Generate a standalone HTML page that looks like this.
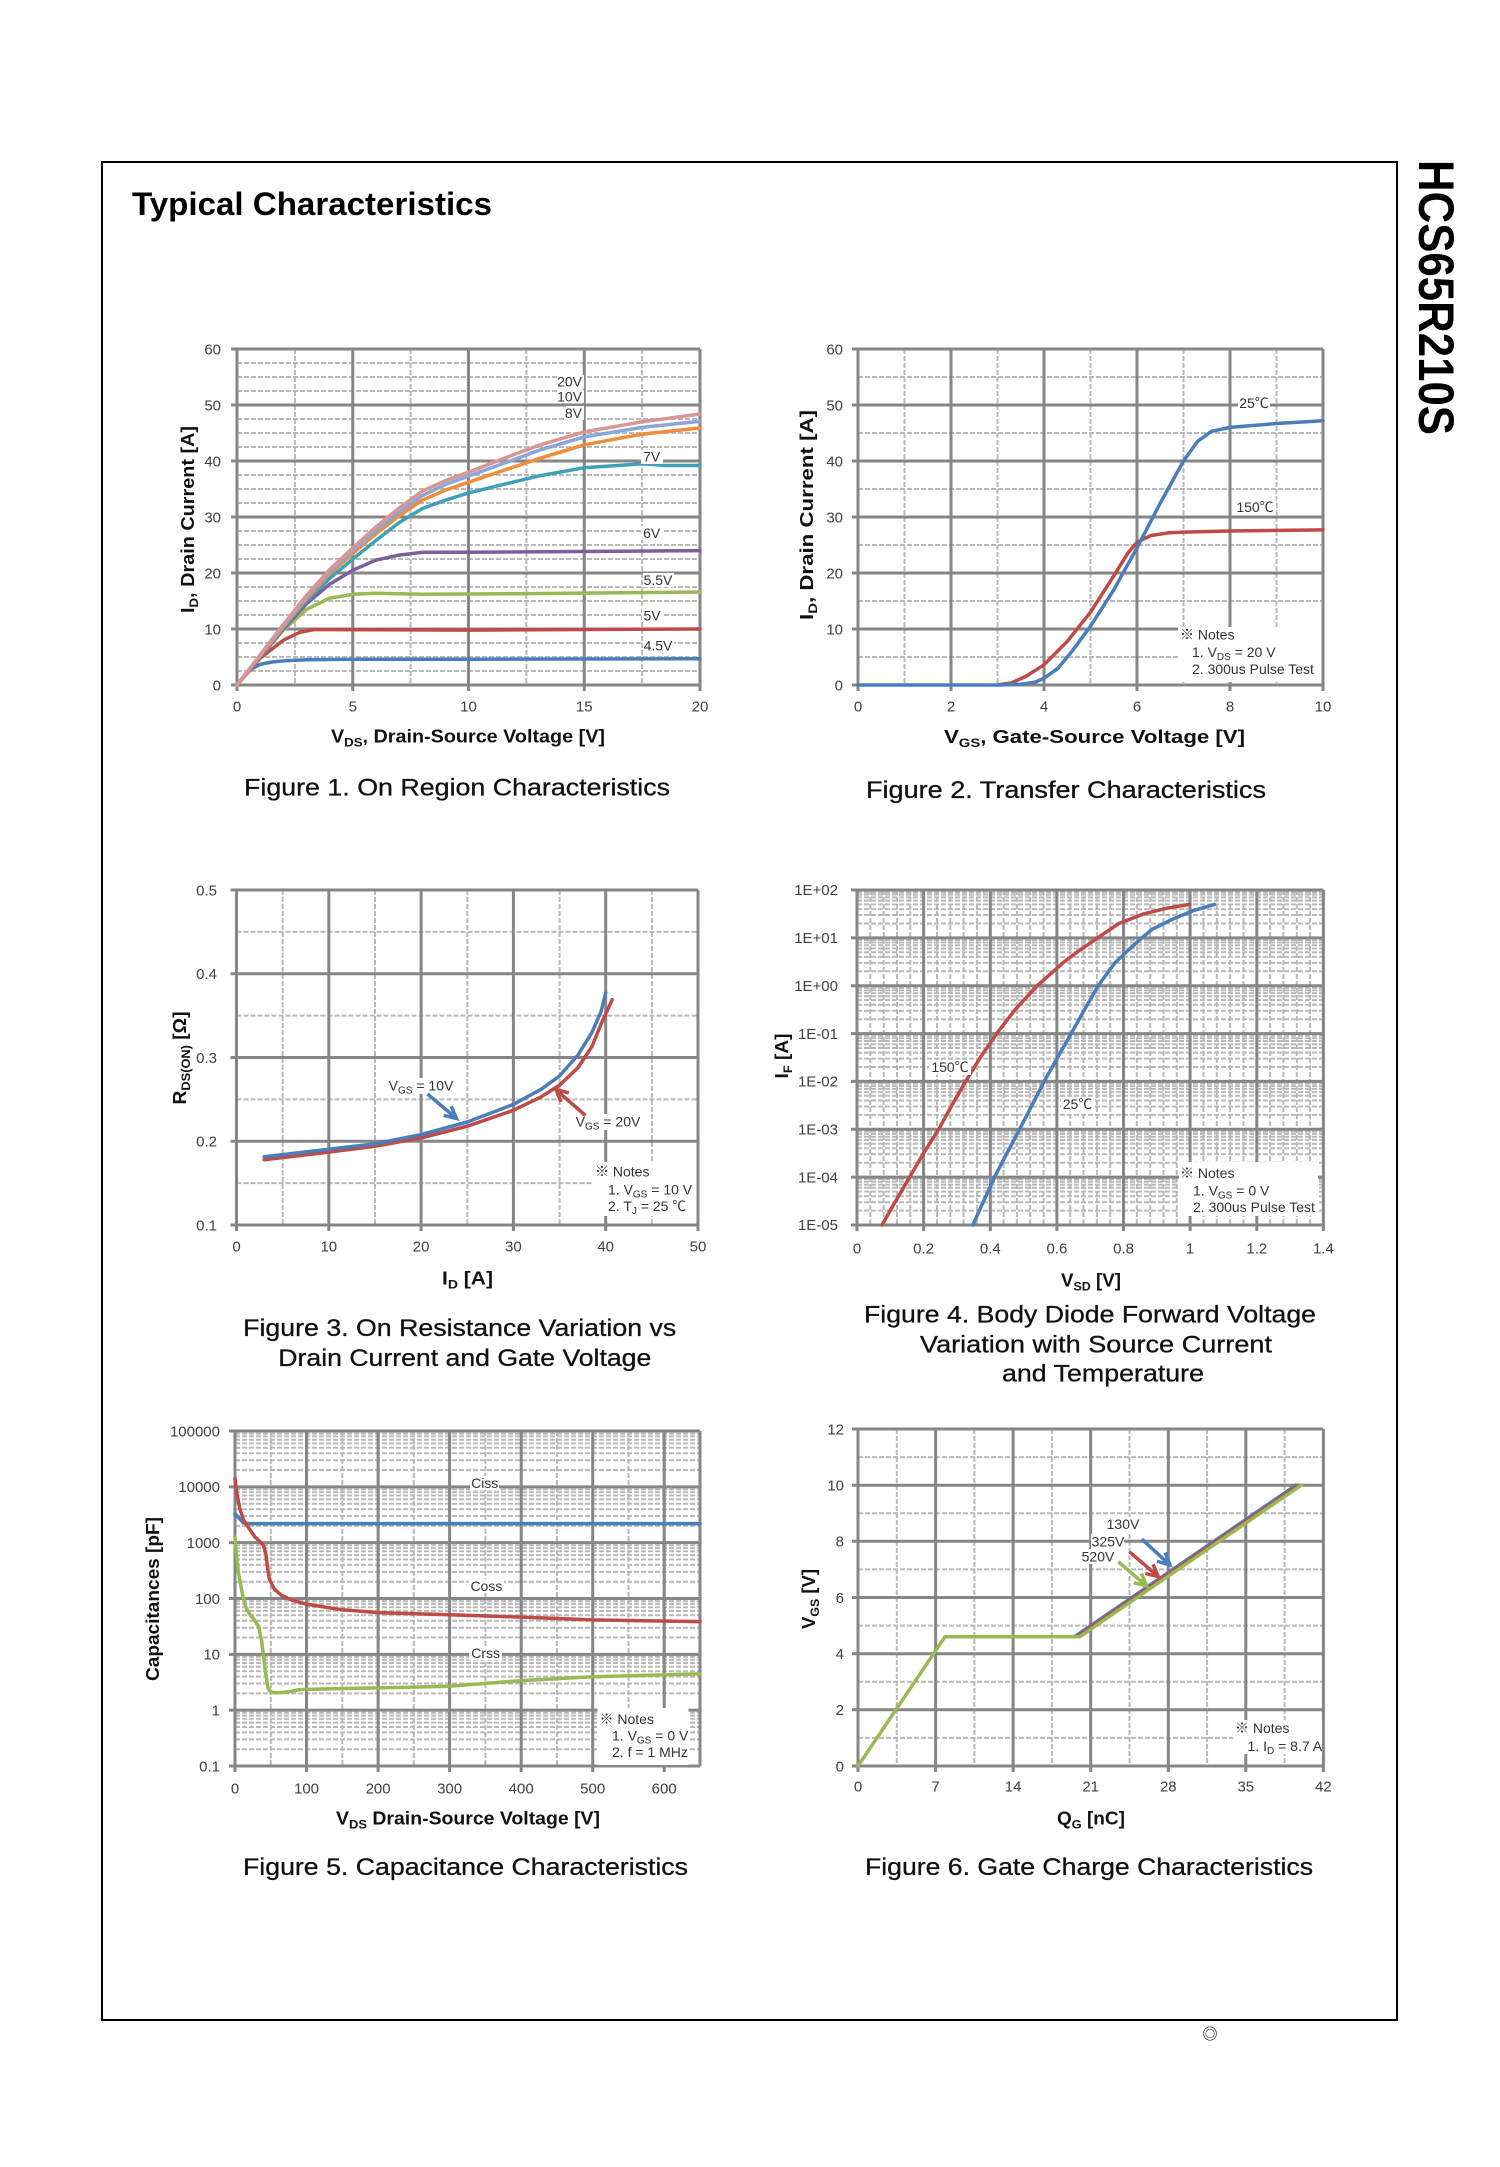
<!DOCTYPE html>
<html><head><meta charset="utf-8">
<style>
html,body{margin:0;padding:0;background:#fff;}
svg{display:block;}
text{font-family:"Liberation Sans","Noto Sans CJK JP",sans-serif;}
.tk{font-size:15px;fill:#404040;}
.ax{font-size:18px;font-weight:bold;fill:#111;}
.cap{font-size:24px;fill:#111;stroke:#111;stroke-width:0.3;}
.nt{font-size:14px;fill:#333;}
.lb{font-size:14px;fill:#333;}
.mj{stroke:#868686;stroke-width:3;fill:none;}
.mn{stroke:#b9b9b9;stroke-width:2;stroke-dasharray:5 2;fill:none;}
.cv{fill:none;stroke-width:3.5;stroke-linejoin:round;stroke-linecap:round;}
.ar{fill:none;stroke-width:3.5;stroke-linejoin:miter;stroke-linecap:butt;}
</style></head>
<body>
<svg width="1500" height="2167" viewBox="0 0 1500 2167" xmlns="http://www.w3.org/2000/svg">
<rect x="0" y="0" width="1500" height="2167" fill="#fff"/>
<!-- page frame -->
<rect x="102" y="162" width="1295" height="1858" fill="none" stroke="#000" stroke-width="2"/>
<text x="132" y="215" font-size="32" font-weight="bold" fill="#000" textLength="360" lengthAdjust="spacingAndGlyphs">Typical Characteristics</text>
<text transform="translate(1419,160) rotate(90)" font-size="50" font-weight="bold" fill="#000" textLength="275" lengthAdjust="spacingAndGlyphs">HCS65R210S</text>
<text x="1210" y="2039" font-size="15" text-anchor="middle" fill="#000">◎</text>

<!-- ================= CHART 1 ================= -->
<path class="mn" d="M294.9 349V685M410.6 349V685M526.4 349V685M642.1 349V685
M237 671H700M237 657H700M237 643H700M237 615H700M237 601H700M237 587H700M237 559H700M237 545H700M237 531H700M237 503H700M237 489H700M237 475H700M237 447H700M237 433H700M237 419H700M237 391H700M237 377H700M237 363H700"/>
<path class="mj" d="M237 349V691M352.75 349V691M468.5 349V691M584.25 349V691M700 349V691
M231 685H700M231 629H700M231 573H700M231 517H700M231 461H700M231 405H700M231 349H700"/>
<polyline class="cv" stroke="#4a7ebb" points="237,685 243.9,676.6 250.9,669.3 260.2,664.3 271.7,662 283.3,660.9 306.5,659.8 352.8,659.2 468.5,659.2 700,658.7"/>
<polyline class="cv" stroke="#be4b48" points="237,685 260.2,658.1 283.3,640.2 299.5,632.4 313.4,629.6 329.6,629.6 468.5,630.1 700,629"/>
<polyline class="cv" stroke="#98b954" points="237,685 260.2,657 283.3,630.1 306.5,609.4 329.6,598.2 352.8,594.3 375.9,593.2 422.2,594.3 514.8,593.7 700,592"/>
<polyline class="cv" stroke="#7d5fa0" points="237,685 260.2,657 283.3,629 306.5,603.8 329.6,584.2 352.8,570.2 375.9,560.1 399.1,555.1 422.2,552.3 468.5,552.3 700,550.6"/>
<polyline class="cv" stroke="#3fa0b8" points="237,685 260.2,656.4 283.3,627.9 306.5,601 329.6,578.6 352.8,559 375.9,540.5 399.1,522.6 422.2,508.6 445.4,500.2 468.5,492.9 514.8,481.7 540.3,475.6 584.3,467.7 642.1,463.8 665.3,465.5 700,465.5"/>
<polyline class="cv" stroke="#f08c3a" points="237,685 260.2,655.9 283.3,626.8 306.5,598.8 329.6,574.1 352.8,553.4 375.9,533.8 399.1,515.9 422.2,500.2 445.4,490.1 468.5,482.3 514.8,466.6 540.3,458.2 584.3,444.8 642.1,434.1 700,428"/>
<polyline class="cv" stroke="#8ba7da" points="237,685 260.2,655.3 283.3,625.6 306.5,597.1 329.6,571.9 352.8,550.6 375.9,530.4 399.1,512 422.2,495.7 445.4,484.5 468.5,476.1 514.8,459.3 540.3,449.8 584.3,436.9 642.1,427.4 700,421.2"/>
<polyline class="cv" stroke="#d99694" points="237,685 260.2,654.8 283.3,624.5 306.5,595.4 329.6,569.6 352.8,547.8 375.9,527.1 399.1,508 422.2,491.2 445.4,480.6 468.5,472.2 514.8,454.3 540.3,444.8 584.3,431.9 642.1,421.8 700,414"/>
<g fill="#fff">
<rect x="557" y="375" width="27" height="14"/><rect x="557" y="390" width="27" height="13"/><rect x="566" y="406" width="18" height="14"/>
<rect x="641" y="450" width="22" height="14"/><rect x="641" y="526" width="22" height="14"/><rect x="643" y="573" width="31" height="14"/>
<rect x="642" y="608" width="21" height="14"/><rect x="643" y="638" width="31" height="14"/>
</g>
<g class="lb">
<text x="582" y="386.5" text-anchor="end">20V</text>
<text x="582" y="401.5" text-anchor="end">10V</text>
<text x="582" y="418" text-anchor="end">8V</text>
<text x="651.7" y="461.5" text-anchor="middle">7V</text>
<text x="651.7" y="538" text-anchor="middle">6V</text>
<text x="658" y="585" text-anchor="middle">5.5V</text>
<text x="652" y="620.5" text-anchor="middle">5V</text>
<text x="658" y="650.5" text-anchor="middle">4.5V</text>
</g>
<g class="tk" text-anchor="end">
<text x="221" y="690.5">0</text><text x="221" y="634.5">10</text><text x="221" y="578.5">20</text><text x="221" y="522.5">30</text><text x="221" y="466.5">40</text><text x="221" y="410.5">50</text><text x="221" y="354.5">60</text>
</g>
<g class="tk" text-anchor="middle">
<text x="237" y="711.5">0</text><text x="352.75" y="711.5">5</text><text x="468.5" y="711.5">10</text><text x="584.25" y="711.5">15</text><text x="700" y="711.5">20</text>
</g>
<text class="ax" x="468" y="742.5" text-anchor="middle" textLength="274" lengthAdjust="spacingAndGlyphs">V<tspan font-size="12" dy="4">DS</tspan><tspan dy="-4">, Drain-Source Voltage  [V]</tspan></text>
<text class="ax" transform="translate(194,519.5) rotate(-90)" text-anchor="middle" textLength="187" lengthAdjust="spacingAndGlyphs">I<tspan font-size="12" dy="4">D</tspan><tspan dy="-4">, Drain Current  [A]</tspan></text>
<text class="cap" x="457" y="795.5" text-anchor="middle" textLength="426" lengthAdjust="spacingAndGlyphs">Figure 1. On Region Characteristics</text>

<!-- ================= CHART 2 ================= -->
<path class="mn" d="M904.5 349V685M997.5 349V685M1090.5 349V685M1183.5 349V685M1276.5 349V685
M858 657H1323M858 601H1323M858 545H1323M858 489H1323M858 433H1323M858 377H1323"/>
<path class="mj" d="M858 349V691M951 349V691M1044 349V691M1137 349V691M1230 349V691M1323 349V691
M852 685H1323M852 629H1323M852 573H1323M852 517H1323M852 461H1323M852 405H1323M852 349H1323"/>
<rect x="1178" y="627" width="143.5" height="55" fill="#fff"/>
<polyline class="cv" stroke="#be4b48" points="997.5,685 1011.5,682.8 1025.4,676.6 1044,664.8 1067.3,641.3 1090.5,612.2 1113.8,575.8 1127.7,553.4 1137,542.2 1151,535.5 1169.6,532.7 1183.5,532.1 1230,531 1323,529.9"/>
<polyline class="cv" stroke="#4a7ebb" points="858,685 997.5,685 1020.8,684.2 1034.7,682.2 1044,678.3 1058,668.2 1071.9,651.4 1090.5,626.2 1113.8,589.8 1137,547.8 1160.3,503 1183.5,461 1197.5,441.4 1211.4,431.3 1230,427.4 1276.5,423.5 1323,420.7"/>
<g fill="#fff"><rect x="1238" y="396" width="32" height="14"/><rect x="1234" y="500" width="42" height="14"/></g>
<g class="lb" text-anchor="middle">
<text x="1254" y="408">25℃</text>
<text x="1255" y="512">150℃</text>
</g>
<g class="nt">
<text x="1180" y="639.5">※ Notes</text>
<text x="1192" y="657">1. V<tspan font-size="10" dy="3">DS</tspan><tspan dy="-3"> = 20 V</tspan></text>
<text x="1192" y="674">2. 300us Pulse Test</text>
</g>
<g class="tk" text-anchor="end">
<text x="843" y="690.5">0</text><text x="843" y="634.5">10</text><text x="843" y="578.5">20</text><text x="843" y="522.5">30</text><text x="843" y="466.5">40</text><text x="843" y="410.5">50</text><text x="843" y="354.5">60</text>
</g>
<g class="tk" text-anchor="middle">
<text x="858" y="711.5">0</text><text x="951" y="711.5">2</text><text x="1044" y="711.5">4</text><text x="1137" y="711.5">6</text><text x="1230" y="711.5">8</text><text x="1323" y="711.5">10</text>
</g>
<text class="ax" x="1094.5" y="743" text-anchor="middle" textLength="301" lengthAdjust="spacingAndGlyphs">V<tspan font-size="12" dy="4">GS</tspan><tspan dy="-4">, Gate-Source Voltage [V]</tspan></text>
<text class="ax" transform="translate(813,515) rotate(-90)" text-anchor="middle" textLength="210" lengthAdjust="spacingAndGlyphs">I<tspan font-size="12" dy="4">D</tspan><tspan dy="-4">, Drain Current [A]</tspan></text>
<text class="cap" x="1066" y="798" text-anchor="middle" textLength="400" lengthAdjust="spacingAndGlyphs">Figure 2. Transfer Characteristics</text>

<!-- ================= CHART 3 ================= -->
<path class="mn" d="M282.7 890V1225M375 890V1225M467.3 890V1225M559.6 890V1225M651.9 890V1225
M236.5 1183.1H698M236.5 1099.4H698M236.5 1015.6H698M236.5 931.9H698"/>
<path class="mj" d="M236.5 890V1231M328.8 890V1231M421.1 890V1231M513.4 890V1231M605.7 890V1231M698 890V1231
M230.5 1225H698M230.5 1141.25H698M230.5 1057.5H698M230.5 973.75H698M230.5 890H698"/>
<rect x="593" y="1162" width="103.5" height="54" fill="#fff"/>
<polyline class="cv" stroke="#be4b48" points="264.2,1159.7 328.8,1152.1 374.9,1146.3 421.1,1137.9 467.3,1126.2 513.4,1110.3 541.1,1096.9 559.6,1085.1 578,1067.6 591.9,1046.6 601.1,1024 612.2,999.7"/>
<polyline class="cv" stroke="#4a7ebb" points="264.2,1156.7 328.8,1149.3 374.9,1143.8 421.1,1134.6 467.3,1122 513.4,1104.4 541.1,1089.3 559.6,1075.9 578,1055 591.9,1032.4 601.1,1011.4 605.7,993"/>
<g fill="#fff"><rect x="388" y="1078" width="66" height="16"/><rect x="574" y="1114" width="67" height="16"/></g>
<line x1="427.5" y1="1094" x2="453" y2="1115.5" stroke="#4a7ebb" stroke-width="3.5"/>
<polyline class="ar" stroke="#4a7ebb" points="443.5,1115.3 456.5,1118.5 451.2,1106.2"/>
<line x1="585.5" y1="1115.5" x2="559" y2="1092.5" stroke="#be4b48" stroke-width="3.5"/>
<polyline class="ar" stroke="#be4b48" points="569,1092.9 556,1089.5 561,1102"/>
<g class="lb" text-anchor="middle">
<text x="421" y="1090.5">V<tspan font-size="10" dy="3">GS</tspan><tspan dy="-3"> = 10V</tspan></text>
<text x="608" y="1126.5">V<tspan font-size="10" dy="3">GS</tspan><tspan dy="-3"> = 20V</tspan></text>
</g>
<g class="nt">
<text x="595" y="1176.5">※ Notes</text>
<text x="608" y="1194.5">1. V<tspan font-size="10" dy="3">GS</tspan><tspan dy="-3"> = 10 V</tspan></text>
<text x="608" y="1211">2. T<tspan font-size="10" dy="3">J</tspan><tspan dy="-3"> = 25 ℃</tspan></text>
</g>
<g class="tk" text-anchor="end">
<text x="217" y="1230.4">0.1</text><text x="217" y="1146.7">0.2</text><text x="217" y="1062.9">0.3</text><text x="217" y="979.2">0.4</text><text x="217" y="895.4">0.5</text>
</g>
<g class="tk" text-anchor="middle">
<text x="236.5" y="1251.5">0</text><text x="328.8" y="1251.5">10</text><text x="421.1" y="1251.5">20</text><text x="513.4" y="1251.5">30</text><text x="605.7" y="1251.5">40</text><text x="698" y="1251.5">50</text>
</g>
<text class="ax" x="467.5" y="1284.5" text-anchor="middle" textLength="51" lengthAdjust="spacingAndGlyphs">I<tspan font-size="12" dy="4">D</tspan><tspan dy="-4">  [A]</tspan></text>
<text class="ax" transform="translate(186,1058) rotate(-90)" text-anchor="middle" textLength="93" lengthAdjust="spacingAndGlyphs">R<tspan font-size="12" dy="4">DS(ON)</tspan><tspan dy="-4"> [Ω]</tspan></text>
<text class="cap" x="459.7" y="1336" text-anchor="middle" textLength="433" lengthAdjust="spacingAndGlyphs">Figure 3. On Resistance Variation vs</text>
<text class="cap" x="464.8" y="1366" text-anchor="middle" textLength="373" lengthAdjust="spacingAndGlyphs">Drain Current and Gate Voltage</text>

<!-- ================= CHART 4 ================= -->
<path class="mn" d="M870.3 890V1225M883.7 890V1225M897 890V1225M910.3 890V1225M937 890V1225M950.3 890V1225M963.6 890V1225M976.9 890V1225M1003.6 890V1225M1016.9 890V1225M1030.2 890V1225M1043.6 890V1225M1070.2 890V1225M1083.5 890V1225M1096.9 890V1225M1110.2 890V1225M1136.8 890V1225M1150.2 890V1225M1163.5 890V1225M1176.8 890V1225M1203.5 890V1225M1216.8 890V1225M1230.1 890V1225M1243.5 890V1225M1270.1 890V1225M1283.4 890V1225M1296.8 890V1225M1310.1 890V1225
M857 1210.6H1323.4M857 1202.2H1323.4M857 1196.2H1323.4M857 1191.6H1323.4M857 1187.8H1323.4M857 1184.6H1323.4M857 1181.8H1323.4M857 1179.3H1323.4
M857 1162.7H1323.4M857 1154.3H1323.4M857 1148.3H1323.4M857 1143.7H1323.4M857 1139.9H1323.4M857 1136.7H1323.4M857 1133.9H1323.4M857 1131.5H1323.4
M857 1114.9H1323.4M857 1106.5H1323.4M857 1100.5H1323.4M857 1095.8H1323.4M857 1092.1H1323.4M857 1088.9H1323.4M857 1086.1H1323.4M857 1083.6H1323.4
M857 1067H1323.4M857 1058.6H1323.4M857 1052.6H1323.4M857 1048H1323.4M857 1044.2H1323.4M857 1041H1323.4M857 1038.2H1323.4M857 1035.8H1323.4
M857 1019.2H1323.4M857 1010.7H1323.4M857 1004.8H1323.4M857 1000.1H1323.4M857 996.3H1323.4M857 993.1H1323.4M857 990.4H1323.4M857 987.9H1323.4
M857 971.3H1323.4M857 962.9H1323.4M857 956.9H1323.4M857 952.3H1323.4M857 948.5H1323.4M857 945.3H1323.4M857 942.5H1323.4M857 940H1323.4
M857 923.5H1323.4M857 915H1323.4M857 909.1H1323.4M857 904.4H1323.4M857 900.6H1323.4M857 897.4H1323.4M857 894.6H1323.4M857 892.2H1323.4"/>
<path class="mj" d="M857 890V1231M923.6 890V1231M990.3 890V1231M1056.9 890V1231M1123.5 890V1231M1190.1 890V1231M1256.8 890V1231M1323.4 890V1231
M851 1225H1323.4M851 1177.14H1323.4M851 1129.29H1323.4M851 1081.43H1323.4M851 1033.57H1323.4M851 985.71H1323.4M851 937.86H1323.4M851 890H1323.4"/>
<rect x="1179" y="1162" width="139" height="54" fill="#fff"/>
<polyline class="cv" stroke="#be4b48" points="882,1225 895.6,1201.1 909.6,1177.1 923.6,1153.2 938.6,1129.3 951.9,1105.4 965.6,1081.4 980.3,1057.5 996.6,1033.6 1015.2,1009.6 1037.2,985.7 1062.9,962.9 1076.9,952.2 1097.5,937.9 1118.9,923.5 1143.5,913.9 1166.8,908.2 1189.5,904.4"/>
<polyline class="cv" stroke="#4a7ebb" points="972.9,1225 983.6,1201.1 994.6,1177.1 1006.9,1153.2 1019.6,1129.3 1031.9,1105.4 1044.2,1081.4 1057.6,1057.5 1071.2,1033.6 1084.5,1009.6 1098.2,985.7 1114.9,962.9 1130.2,948.4 1141.8,937.9 1152.2,929.3 1173.5,918.7 1193.5,910.6 1214.5,904.4"/>
<g fill="#fff"><rect x="929" y="1060" width="42" height="15"/><rect x="1061" y="1097" width="33" height="15"/></g>
<g class="lb" text-anchor="middle">
<text x="950" y="1072">150℃</text>
<text x="1077.5" y="1109">25℃</text>
</g>
<g class="nt">
<text x="1180" y="1178">※ Notes</text>
<text x="1193" y="1195.5">1. V<tspan font-size="10" dy="3">GS</tspan><tspan dy="-3"> = 0 V</tspan></text>
<text x="1193" y="1212">2. 300us Pulse Test</text>
</g>
<g class="tk" text-anchor="end" font-size="14">
<text x="838" y="895.2">1E+02</text><text x="838" y="943">1E+01</text><text x="838" y="990.9">1E+00</text><text x="838" y="1038.8">1E-01</text><text x="838" y="1086.6">1E-02</text><text x="838" y="1134.5">1E-03</text><text x="838" y="1182.3">1E-04</text><text x="838" y="1230.2">1E-05</text>
</g>
<g class="tk" text-anchor="middle">
<text x="857" y="1253.5">0</text><text x="923.6" y="1253.5">0.2</text><text x="990.3" y="1253.5">0.4</text><text x="1056.9" y="1253.5">0.6</text><text x="1123.5" y="1253.5">0.8</text><text x="1190.1" y="1253.5">1</text><text x="1256.8" y="1253.5">1.2</text><text x="1323.4" y="1253.5">1.4</text>
</g>
<text class="ax" x="1091" y="1286.5" text-anchor="middle" textLength="60" lengthAdjust="spacingAndGlyphs">V<tspan font-size="12" dy="4">SD</tspan><tspan dy="-4"> [V]</tspan></text>
<text class="ax" transform="translate(788,1056) rotate(-90)" text-anchor="middle" textLength="45" lengthAdjust="spacingAndGlyphs">I<tspan font-size="12" dy="4">F</tspan><tspan dy="-4"> [A]</tspan></text>
<text class="cap" x="1090" y="1322.5" text-anchor="middle" textLength="452" lengthAdjust="spacingAndGlyphs">Figure 4. Body Diode Forward Voltage</text>
<text class="cap" x="1096" y="1352.5" text-anchor="middle" textLength="352" lengthAdjust="spacingAndGlyphs">Variation with Source Current</text>
<text class="cap" x="1103" y="1381.5" text-anchor="middle" textLength="202" lengthAdjust="spacingAndGlyphs">and Temperature</text>

<!-- ================= CHART 5 ================= -->
<path class="mn" d="M270.8 1431V1766M342.3 1431V1766M413.8 1431V1766M485.4 1431V1766M556.9 1431V1766M628.5 1431V1766
M235 1749.2H700M235 1739.4H700M235 1732.4H700M235 1727H700M235 1722.6H700M235 1718.8H700M235 1715.6H700M235 1712.7H700
M235 1693.4H700M235 1683.5H700M235 1676.6H700M235 1671.2H700M235 1666.7H700M235 1663H700M235 1659.8H700M235 1656.9H700
M235 1637.5H700M235 1627.7H700M235 1620.7H700M235 1615.3H700M235 1610.9H700M235 1607.2H700M235 1603.9H700M235 1601.1H700
M235 1581.7H700M235 1571.9H700M235 1564.9H700M235 1559.5H700M235 1555.1H700M235 1551.3H700M235 1548.1H700M235 1545.2H700
M235 1525.9H700M235 1516H700M235 1509.1H700M235 1503.7H700M235 1499.2H700M235 1495.5H700M235 1492.3H700M235 1489.4H700
M235 1470H700M235 1460.2H700M235 1453.2H700M235 1447.8H700M235 1443.4H700M235 1439.7H700M235 1436.4H700M235 1433.6H700"/>
<path class="mj" d="M235 1431V1772M306.5 1431V1772M378.1 1431V1772M449.6 1431V1772M521.2 1431V1772M592.7 1431V1772M664.2 1431V1772M700 1431V1766
M229 1766H700M229 1710.17H700M229 1654.33H700M229 1598.5H700M229 1542.67H700M229 1486.83H700M229 1431H700"/>
<rect x="597.5" y="1708" width="91" height="57" fill="#fff"/>
<polyline class="cv" stroke="#4a7ebb" points="235,1513.7 238.6,1517.7 243.6,1523 249.3,1523.6 700,1523.6"/>
<polyline class="cv" stroke="#be4b48" points="235,1478.5 237.1,1495.2 240,1509.2 243.6,1520.4 249.3,1528.8 255,1537.1 260,1541.6 263.6,1545.5 265.8,1553.9 267.2,1565.1 269.3,1579 274.3,1589.1 281.5,1595.3 292.2,1600.3 306.5,1604.2 342.3,1609.8 378.1,1612.6 449.6,1614.8 521.2,1617.1 592.7,1619.9 700,1621.6"/>
<polyline class="cv" stroke="#98b954" points="235,1537.1 236.4,1553.9 238.6,1573.4 242.2,1593 245.7,1606.9 249.3,1613.6 255,1620.9 258.6,1626.5 261.5,1640.4 263.6,1657.2 265.8,1674 267.9,1687.9 270.8,1692.3 277.9,1692.9 288.7,1691.8 299.4,1689.6 320.8,1689 378.1,1687.9 449.6,1686.2 521.2,1680.6 592.7,1676.7 700,1673.9"/>
<g fill="#fff"><rect x="470" y="1476" width="29" height="14"/><rect x="469" y="1579" width="35" height="14"/><rect x="469" y="1646" width="33" height="14"/></g>
<g class="lb" text-anchor="middle">
<text x="484.7" y="1488">Ciss</text>
<text x="486.4" y="1591">Coss</text>
<text x="485.6" y="1658">Crss</text>
</g>
<g class="nt">
<text x="599.5" y="1724">※ Notes</text>
<text x="612" y="1740.5">1. V<tspan font-size="10" dy="3">GS</tspan><tspan dy="-3"> = 0 V</tspan></text>
<text x="612" y="1757">2. f = 1 MHz</text>
</g>
<g class="tk" text-anchor="end">
<text x="220" y="1771.4">0.1</text><text x="220" y="1715.6">1</text><text x="220" y="1659.7">10</text><text x="220" y="1603.9">100</text><text x="220" y="1548.1">1000</text><text x="220" y="1492.2">10000</text><text x="220" y="1436.4">100000</text>
</g>
<g class="tk" text-anchor="middle">
<text x="235" y="1793.5">0</text><text x="306.5" y="1793.5">100</text><text x="378.1" y="1793.5">200</text><text x="449.6" y="1793.5">300</text><text x="521.2" y="1793.5">400</text><text x="592.7" y="1793.5">500</text><text x="664.2" y="1793.5">600</text>
</g>
<text class="ax" x="468" y="1824.5" text-anchor="middle" textLength="264" lengthAdjust="spacingAndGlyphs">V<tspan font-size="12" dy="4">DS</tspan><tspan dy="-4"> Drain-Source Voltage [V]</tspan></text>
<text class="ax" transform="translate(159,1599) rotate(-90)" text-anchor="middle" font-size="19" textLength="164" lengthAdjust="spacingAndGlyphs">Capacitances [pF]</text>
<text class="cap" x="465.5" y="1875" text-anchor="middle" textLength="445" lengthAdjust="spacingAndGlyphs">Figure 5. Capacitance Characteristics</text>

<!-- ================= CHART 6 ================= -->
<path class="mn" d="M896.8 1429V1766M974.4 1429V1766M1051.9 1429V1766M1129.5 1429V1766M1207.1 1429V1766M1284.6 1429V1766
M858 1737.9H1323.4M858 1681.8H1323.4M858 1625.6H1323.4M858 1569.4H1323.4M858 1513.3H1323.4M858 1457.1H1323.4"/>
<path class="mj" d="M858 1429V1772M935.6 1429V1772M1013.1 1429V1772M1090.7 1429V1772M1168.3 1429V1772M1245.8 1429V1772M1323.4 1429V1772
M852 1766H1323.4M852 1709.8H1323.4M852 1653.7H1323.4M852 1597.5H1323.4M852 1541.3H1323.4M852 1485.2H1323.4M852 1429H1323.4"/>
<rect x="1233" y="1720" width="89" height="34" fill="#fff"/>
<polyline class="cv" stroke="#4a7ebb" points="1050,1636.8 1074.4,1636.8 1296,1485.2"/>
<polyline class="cv" stroke="#be4b48" points="1050,1636.8 1077,1636.8 1298.6,1485.2"/>
<polyline class="cv" stroke="#98b954" points="858,1766 945,1636.8 1079.6,1636.8 1301.2,1485.2"/>
<g fill="#fff"><rect x="1107" y="1517" width="33" height="15"/><rect x="1091" y="1534" width="33" height="15"/><rect x="1081" y="1549" width="33" height="15"/></g>
<line x1="1141.7" y1="1539" x2="1167" y2="1562.3" stroke="#4a7ebb" stroke-width="3.5"/>
<polyline class="ar" stroke="#4a7ebb" points="1157.1,1561.3 1170,1565 1165.2,1552.5"/>
<line x1="1129.3" y1="1551.7" x2="1155.2" y2="1574" stroke="#be4b48" stroke-width="3.5"/>
<polyline class="ar" stroke="#be4b48" points="1145.3,1573.4 1158.3,1576.7 1153.1,1564.3"/>
<line x1="1118.3" y1="1561.7" x2="1143.6" y2="1583.4" stroke="#98b954" stroke-width="3.5"/>
<polyline class="ar" stroke="#98b954" points="1133.7,1582.8 1146.7,1586 1141.5,1573.6"/>
<g class="lb" text-anchor="middle">
<text x="1123" y="1529">130V</text>
<text x="1108" y="1546.5">325V</text>
<text x="1098" y="1561.5">520V</text>
</g>
<g class="nt">
<text x="1235" y="1733">※ Notes</text>
<text x="1247.5" y="1751">1. I<tspan font-size="10" dy="3">D</tspan><tspan dy="-3"> = 8.7 A</tspan></text>
</g>
<g class="tk" text-anchor="end">
<text x="844" y="1771.4">0</text><text x="844" y="1715.2">2</text><text x="844" y="1659.1">4</text><text x="844" y="1602.9">6</text><text x="844" y="1546.7">8</text><text x="844" y="1490.6">10</text><text x="844" y="1434.4">12</text>
</g>
<g class="tk" text-anchor="middle">
<text x="858" y="1791.5">0</text><text x="935.6" y="1791.5">7</text><text x="1013.1" y="1791.5">14</text><text x="1090.7" y="1791.5">21</text><text x="1168.3" y="1791.5">28</text><text x="1245.8" y="1791.5">35</text><text x="1323.4" y="1791.5">42</text>
</g>
<text class="ax" x="1091" y="1824.5" text-anchor="middle" textLength="68" lengthAdjust="spacingAndGlyphs">Q<tspan font-size="12" dy="4">G</tspan><tspan dy="-4"> [nC]</tspan></text>
<text class="ax" transform="translate(815,1599) rotate(-90)" text-anchor="middle" textLength="60" lengthAdjust="spacingAndGlyphs">V<tspan font-size="12" dy="4">GS</tspan><tspan dy="-4"> [V]</tspan></text>
<text class="cap" x="1089" y="1875" text-anchor="middle" textLength="448" lengthAdjust="spacingAndGlyphs">Figure 6. Gate Charge Characteristics</text>
</svg>
</body></html>
